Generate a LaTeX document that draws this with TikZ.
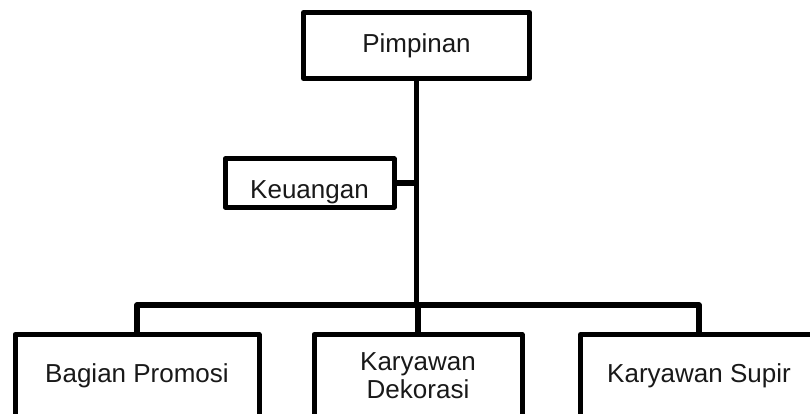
\documentclass[tikz,border=0pt]{standalone}
\usepackage{fontspec}
\setmainfont{Liberation Sans}
\usepackage{tikz}
\usetikzlibrary{positioning,calc}

\begin{document}
\begin{tikzpicture}[x=1pt, y=-1pt, line width=5pt, line join=round, org node/.style={rectangle,draw,fill=white,inner sep=0pt,align=center,text=black!90,font=\fontsize{26}{28}\selectfont}]%y runs downward
\useasboundingbox (0,0) rectangle (810,414);
\clip (0,0) rectangle (810,414);
\begin{scope}[every node/.style={org node}]
\node (pim) at (416.5,45.5) [minimum width=226pt, minimum height=66pt] {Pimpinan};
\node (keu) at (309.5,183) [minimum width=169pt, minimum height=48pt, text height=31pt, text depth=0pt] {Keuangan};
\node (bag) at (137,376) [minimum width=244pt, minimum height=83pt] {Bagian Promosi};
\node (dek) at (418,376) [minimum width=208pt, minimum height=83pt] {Karyawan\\Dekorasi};
\node (sup) at (699,376) [minimum width=237pt, minimum height=83pt] {Karyawan Supir};
\end{scope}
\coordinate (bar) at (417,305);
\begin{scope}[line width=5.5pt]
\draw  (pim.south) -- (pim.south |- bar);
\draw  (keu.east) -- (keu.east -| bar);
\draw  (bag.north) |- (bar) -| (sup.north);
\draw  (dek.north) -- (dek.north |- bar);
\end{scope}
\end{tikzpicture}
\end{document}
